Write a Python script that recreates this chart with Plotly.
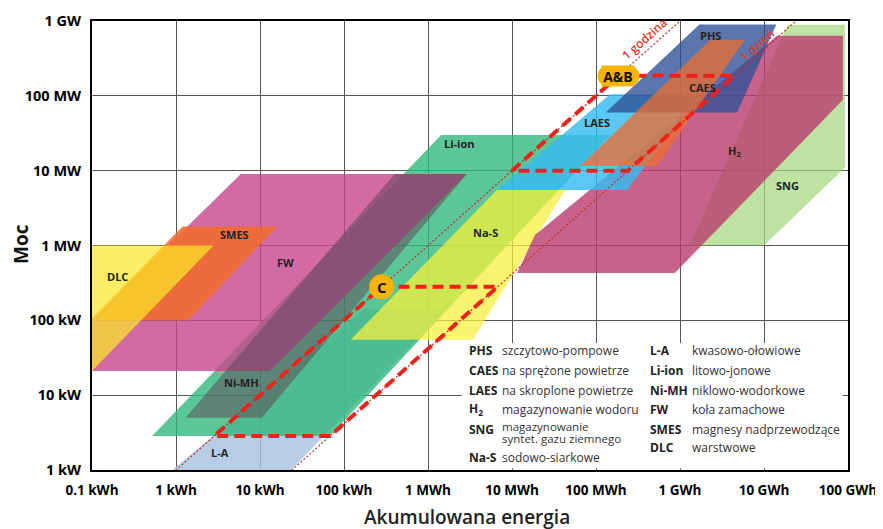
import numpy as np
import plotly.graph_objects as go

# ---------------- axis ticks ----------------
x_tick_vals = [0.1, 1, 10, 100, 1e3, 1e4, 1e5, 1e6, 1e7, 1e8]
x_tick_text = ["0.1 kWh", "1 kWh", "10 kWh", "100 kWh", "1 MWh", "10 MWh",
               "100 MWh", "1 GWh", "10 GWh", "100 GWh"]
y_tick_vals = [1, 10, 100, 1e3, 1e4, 1e5, 1e6]
y_tick_text = ["1 kW", "10 kW", "100 kW", "1 MW", "10 MW", "100 MW", "1 GW"]

# ---------------- technology regions (energy kWh, power kW) ----------------
la_energy = [0.65, 18, 1600, 170]
la_power = [0.73, 0.73, 140, 140]
liion_energy = [0.52, 68, 147000, 1430]
liion_power = [2.85, 2.85, 30000, 30000]
fw_energy = [5.9, 2900, 13, 0.024]
fw_power = [9000, 9000, 21, 21]
nimh_energy = [1.3, 10.5, 2900, 400]
nimh_power = [5, 5, 9000, 9000]
smes_energy = [1.2, 16, 1.4, 0.095]
smes_power = [1800, 1800, 100, 100]
dlc_energy = [0.003, 2.8, 0.1, 0.003]
dlc_power = [1000, 1000, 21, 21]
nas_energy = [120, 3400, 43000, 6600]
nas_power = [55, 55, 5500, 5500]
sng_energy = [1.3e6, 1.0e7, 9.2e7, 9.2e7, 1.9e7]
sng_power = [1000, 1000, 1.1e4, 8.9e5, 8.9e5]
h2_energy = [11500, 8.7e5, 8.7e7, 8.7e7, 1.43e7, 18800]
h2_power = [430, 430, 88500, 634000, 634000, 1386]
laes_energy = [6600, 234000, 1.7e6, 147000]
laes_power = [5500, 5500, 105000, 105000]
phs_energy = [1.3e5, 4.8e6, 1.4e7, 1.7e6]
phs_power = [6e4, 6e4, 9e5, 9e5]
caes_energy = [6.5e4, 5.3e5, 5.9e6, 2.3e6]
caes_power = [1.15e4, 1.15e4, 5.6e5, 5.6e5]

# region labels (energy kWh, power kW)
label_names = ["DLC", "SMES", "FW", "Ni-MH", "L-A", "Li-ion", "Na-S",
               "LAES", "CAES", "PHS", "H<sub>2</sub>", "SNG"]
label_energy = [0.2, 5.0, 20, 6.1, 3.3, 2400, 4800, 103000, 1.83e6, 2.28e6, 4.5e6, 1.88e7]
label_power = [380, 1390, 600, 14.6, 1.7, 22800, 1470, 43600, 128000, 634000, 18400, 6270]

# reference durations (hours) and scenario boxes
duration_hours = [1, 24]
duration_labels = ["1 godzina", "1 dzień"]
duration_power_range = [0.1, 1e7]
scenario_names = ["A&B", "C"]
scenario_power_top = [185000, 280]
scenario_power_bottom = [10000, 2.85]

# legend table
legend_abbr_1 = ["PHS", "CAES", "LAES", "H<sub>2</sub>", "SNG", "Na-S"]
legend_desc_1 = ["szczytowo-pompowe", "na sprężone powietrze", "na skroplone powietrze",
                 "magazynowanie wodoru", "magazynowanie<br>syntet. gazu ziemnego", "sodowo-siarkowe"]
legend_abbr_2 = ["L-A", "Li-ion", "Ni-MH", "FW", "SMES", "DLC"]
legend_desc_2 = ["kwasowo-ołowiowe", "litowo-jonowe", "niklowo-wodorkowe",
                 "koła zamachowe", "magnesy nadprzewodzące", "warstwowe"]

FONT = "Open Sans"

regions = [
    (la_energy, la_power, "rgba(170,196,226,0.85)"),
    (liion_energy, liion_power, "rgba(50,184,125,0.8)"),
    (fw_energy, fw_power, "rgba(200,70,140,0.8)"),
    (nimh_energy, nimh_power, "rgba(95,65,85,0.5)"),
    (smes_energy, smes_power, "rgba(240,108,45,0.88)"),
    (dlc_energy, dlc_power, "rgba(250,232,40,0.72)"),
    (nas_energy, nas_power, "rgba(246,240,60,0.75)"),
    (sng_energy, sng_power, "rgba(165,215,125,0.72)"),
    (h2_energy, h2_power, "rgba(185,60,110,0.8)"),
    (laes_energy, laes_power, "rgba(55,188,240,0.82)"),
    (phs_energy, phs_power, "rgba(45,80,150,0.78)"),
    (caes_energy, caes_power, "rgba(238,110,45,0.75)"),
]

fig = go.Figure()
for e, p, c in regions:
    fig.add_trace(go.Scatter(x=e + [e[0]], y=p + [p[0]], mode="lines", fill="toself",
                             fillcolor=c, line=dict(width=0, color=c),
                             hoverinfo="skip", showlegend=False))

# duration lines (E = P * h)
for h in duration_hours:
    fig.add_trace(go.Scatter(x=[p * h for p in duration_power_range], y=duration_power_range,
                             mode="lines", line=dict(color="#c0302a", width=1.2, dash="2px,2px"),
                             hoverinfo="skip", showlegend=False))

# scenario boxes
for top, bot in zip(scenario_power_top, scenario_power_bottom):
    h1, h2 = duration_hours
    xs = [top * h1, top * h2, bot * h2, bot * h1, top * h1]
    ys = [top, top, bot, bot, top]
    fig.add_trace(go.Scatter(x=xs, y=ys, mode="lines",
                             line=dict(color="#f0201a", width=4, dash="11px,6px"),
                             hoverinfo="skip", showlegend=False))

badge = "#f6b400"
# A&B badge: rounded ends
ab_top = scenario_power_top[0]
ab_x = ab_top * duration_hours[0]
fig.add_trace(go.Scatter(x=[ab_x / 10 ** 0.131, ab_x * 10 ** 0.131], y=[ab_top, ab_top],
                         mode="markers", marker=dict(size=20, color=badge, line=dict(width=0)),
                         hoverinfo="skip", showlegend=False))
fig.add_annotation(x=np.log10(ab_x), y=np.log10(ab_top), text="<b>A&B</b>", showarrow=False,
                   bgcolor=badge, width=32, height=20, borderpad=0,
                   font=dict(family=FONT, size=14, color="#111"))
# C badge
c_top = scenario_power_top[1]
c_x = c_top * duration_hours[0]
fig.add_trace(go.Scatter(x=[c_x], y=[c_top], mode="markers",
                         marker=dict(size=25, color=badge, line=dict(width=0)),
                         hoverinfo="skip", showlegend=False))
fig.add_annotation(x=np.log10(c_x), y=np.log10(c_top), text="<b>C</b>", showarrow=False,
                   font=dict(family=FONT, size=15, color="#111"))

# region labels
for n, e, p in zip(label_names, label_energy, label_power):
    fig.add_annotation(x=np.log10(e), y=np.log10(p), text="<b>" + n + "</b>", showarrow=False,
                       font=dict(family=FONT, size=11, color="#222"))

# duration labels
ang = -np.degrees(np.arctan(74.8 / 84))
dur_label_pos = [(5.583, 5.762), (6.917, 5.668)]
for t, (lx, ly) in zip(duration_labels, dur_label_pos):
    fig.add_annotation(x=lx, y=ly, text=t, showarrow=False, textangle=ang,
                       font=dict(family=FONT, size=12, color="#e5352c", weight=600))

# legend box
fig.add_shape(type="rect", xref="paper", yref="paper", x0=0.489, x1=0.993, y0=0.004, y1=0.283,
              fillcolor="white", line=dict(width=0), layer="above")

rows1 = [350.7, 370.7, 390, 409.3, 429, 457.3]
rows2 = [350.7, 370.7, 390, 409.3, 429, 447.3]


def py2paper(py):
    return (470 - py) / 449


def px2paper(px):
    return (px - 92) / 756


def legend_text(x, y, text, color="#333", size=12):
    fig.add_annotation(xref="paper", yref="paper", x=px2paper(x), y=py2paper(y), text=text,
                       xanchor="left", yanchor="middle", showarrow=False,
                       font=dict(family=FONT, size=size, color=color))


for a, d, r in zip(legend_abbr_1, legend_desc_1, rows1):
    legend_text(467, r, "<b>" + a + "</b>", "#222")
    if "<br>" in d:
        l1, l2 = d.split("<br>")
        legend_text(500, r - 2.5, l1, size=11.5)
        legend_text(500, r + 9.5, l2, size=11.5)
    else:
        legend_text(500, r, d)
for a, d, r in zip(legend_abbr_2, legend_desc_2, rows2):
    legend_text(648, r, "<b>" + a + "</b>", "#222")
    legend_text(690, r, d)

# axis titles
fig.add_annotation(xref="paper", yref="paper", x=px2paper(21), y=py2paper(244), text="<b>Moc</b>",
                   textangle=-90, showarrow=False, xanchor="center", yanchor="middle",
                   font=dict(family=FONT, size=19, color="#111"))
fig.add_annotation(xref="paper", yref="paper", x=px2paper(467), y=py2paper(517),
                   text="Akumulowana energia", showarrow=False, xanchor="center", yanchor="middle",
                   font=dict(family=FONT, size=19, color="#222", weight=600))

fig.update_xaxes(type="log", range=[-1, 8], tickvals=x_tick_vals, ticktext=x_tick_text,
                 showgrid=True, gridcolor="#555", gridwidth=1, zeroline=False,
                 showline=True, linecolor="black", linewidth=2, mirror=True,
                 ticks="", ticklabelstandoff=7, automargin=False,
                 tickfont=dict(family=FONT, size=13.5, color="black", weight="bold"))
fig.update_yaxes(type="log", range=[0, 6], tickvals=y_tick_vals, ticktext=y_tick_text,
                 showgrid=True, gridcolor="#555", gridwidth=1, zeroline=False,
                 showline=True, linecolor="black", linewidth=2, mirror=True,
                 ticks="", ticklabelstandoff=6, automargin=False,
                 tickfont=dict(family=FONT, size=14.5, color="black", weight="bold"))
# page body keeps an 8px margin, so the figure is offset to land where the reference is
fig.update_layout(width=875, height=521, margin=dict(l=84, r=35, t=13, b=59),
                  plot_bgcolor="white", paper_bgcolor="white", showlegend=False)

fig.write_html("out.html")
